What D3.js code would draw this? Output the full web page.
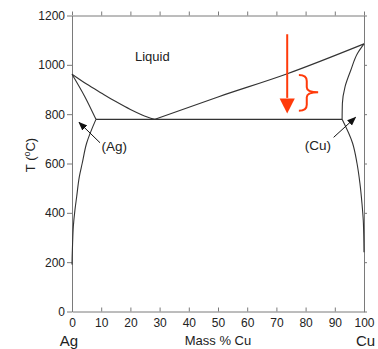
<!DOCTYPE html>
<html>
<head>
<meta charset="utf-8">
<script src="https://cdn.jsdelivr.net/npm/d3@7"></script>
<style>
  body { margin: 0; background: #fff; }
  svg { display: block; font-family: "Liberation Sans", Arial, Helvetica, sans-serif; }
  .axis text { font-size: 12px; fill: #222; }
  .axis path, .axis line { stroke: #7a7a7a; }
</style>
</head>
<body>
<div id="chart"></div>
<script>
// Ag-Cu phase diagram, points as [mass % Cu, T in degC]
const liquidusAg = [[0, 962], [5, 922], [10, 886], [15, 851], [20, 819], [24, 797], [28.3, 779]];
const liquidusCu = [[28.3, 779], [50, 870], [73.5, 963], [100, 1085]];
const solidusAg = [[0, 962], [4.4, 871], [8.2, 779]];
const solidusCu = [[100, 1085], [97.8, 1047], [95.5, 979], [93.5, 911], [92.6, 844], [92.5, 779]];
const solvusAg = [[8.2, 779], [5, 682], [3.5, 601], [2.5, 546], [1.6, 465], [1, 411], [0.45, 344], [0.2, 276], [0.05, 222], [0, 190]];
const solvusCu = [[92.5, 779], [96.1, 682], [97.6, 601], [98.6, 520], [99.3, 439], [99.8, 358], [100, 240]];
const eutectic = [[8.2, 779], [92.5, 779]];

const xTicks = [0, 10, 20, 30, 40, 50, 60, 70, 80, 90, 100];
const yTicks = [0, 200, 400, 600, 800, 1000, 1200];

const width = 378, height = 349;
const margin = { top: 15.5, right: 14, bottom: 37.5, left: 72 };
const w = width - margin.left - margin.right;
const h = height - margin.top - margin.bottom;

const svg = d3.select("#chart").append("svg")
    .attr("width", width)
    .attr("height", height);

const defs = svg.append("defs");
defs.append("marker")
    .attr("id", "blackHead")
    .attr("viewBox", "0 0 10 10")
    .attr("refX", 9).attr("refY", 5)
    .attr("markerWidth", 9).attr("markerHeight", 9)
    .attr("markerUnits", "userSpaceOnUse")
    .attr("orient", "auto")
    .append("path")
    .attr("d", "M0,1 L10,5 L0,9 Z")
    .attr("fill", "#111");

const g = svg.append("g")
    .attr("transform", `translate(${margin.left},${margin.top})`);

const x = d3.scaleLinear().domain([0, 100]).range([0, w]);
const y = d3.scaleLinear().domain([0, 1200]).range([h, 0]);

// axes
g.append("g").attr("class", "axis")
    .attr("transform", `translate(0,${h})`)
    .call(d3.axisBottom(x).tickValues(xTicks).tickSize(-4).tickSizeOuter(0).tickPadding(7));
g.append("g").attr("class", "axis")
    .call(d3.axisTop(x).tickValues(xTicks).tickSize(4).tickSizeOuter(0).tickFormat(""));
g.append("g").attr("class", "axis")
    .call(d3.axisLeft(y).tickValues(yTicks).tickSize(5).tickSizeOuter(0).tickPadding(2).tickFormat(d3.format("d")));
g.append("g").attr("class", "axis")
    .attr("transform", `translate(${w},0)`)
    .call(d3.axisRight(y).tickValues(yTicks).tickSize(3).tickSizeOuter(0).tickFormat(""));

// phase boundaries
const line = d3.line().x(d => x(d[0])).y(d => y(d[1])).curve(d3.curveMonotoneY);
const lineX = d3.line().x(d => x(d[0])).y(d => y(d[1])).curve(d3.curveMonotoneX);

[liquidusAg, liquidusCu, eutectic].forEach(pts => {
    g.append("path").attr("d", lineX(pts))
        .attr("fill", "none").attr("stroke", "#333").attr("stroke-width", 1.1);
});
[solidusAg, solidusCu, solvusAg, solvusCu].forEach(pts => {
    g.append("path").attr("d", line(pts))
        .attr("fill", "none").attr("stroke", "#333").attr("stroke-width", 1.1);
});

// labels
g.append("text").attr("x", x(27.5)).attr("y", y(1033)).attr("dy", "0.35em")
    .attr("text-anchor", "middle").attr("font-size", 13).attr("fill", "#222")
    .text("Liquid");

g.append("text").attr("x", x(10.1)).attr("y", y(669)).attr("dy", "0.35em")
    .attr("font-size", 13.5).attr("fill", "#222").text("(Ag)");
g.append("line")
    .attr("x1", x(9.6)).attr("y1", y(684)).attr("x2", x(2.4)).attr("y2", y(767))
    .attr("stroke", "#111").attr("stroke-width", 1).attr("marker-end", "url(#blackHead)");

g.append("text").attr("x", x(79.7)).attr("y", y(675)).attr("dy", "0.35em")
    .attr("font-size", 13.5).attr("fill", "#222").text("(Cu)");
g.append("line")
    .attr("x1", x(89.6)).attr("y1", y(706)).attr("x2", x(97.1)).attr("y2", y(787))
    .attr("stroke", "#111").attr("stroke-width", 1).attr("marker-end", "url(#blackHead)");

// red cooling arrow and brace
const red = "#ff3a0a";
const ax = x(73.7);
g.append("line")
    .attr("x1", ax).attr("y1", y(1124)).attr("x2", ax).attr("y2", y(866))
    .attr("stroke", red).attr("stroke-width", 2);
g.append("path")
    .attr("d", `M${ax - 7.6},${y(864)} L${ax + 7.6},${y(864)} L${ax},${y(803)} Z`)
    .attr("fill", red);

const bx0 = x(77.7), bxs = x(80.4), bxt = x(84.3);
const bTop = y(959), bMid = y(889), bBot = y(814);
g.append("path")
    .attr("d", `M${bx0},${bTop} Q${bxs},${bTop} ${bxs},${bTop + 6} L${bxs},${bMid - 5}`
        + ` Q${bxs},${bMid} ${bxt},${bMid} Q${bxs},${bMid} ${bxs},${bMid + 5}`
        + ` L${bxs},${bBot - 6} Q${bxs},${bBot} ${bx0},${bBot}`)
    .attr("fill", "none").attr("stroke", red).attr("stroke-width", 2);

// axis titles
svg.append("text")
    .attr("transform", "translate(35,155) rotate(-90)")
    .attr("text-anchor", "middle").attr("font-size", 13).attr("fill", "#222")
    .call(t => {
        t.append("tspan").text("T (");
        t.append("tspan").attr("font-size", 9).attr("dy", -5).text("o");
        t.append("tspan").attr("dy", 5).text("C)");
    });

svg.append("text").attr("x", margin.left + w / 2).attr("y", 345)
    .attr("text-anchor", "middle").attr("font-size", 13).attr("fill", "#222")
    .text("Mass % Cu");
svg.append("text").attr("x", 69).attr("y", 346)
    .attr("text-anchor", "middle").attr("font-size", 15).attr("fill", "#222")
    .text("Ag");
svg.append("text").attr("x", 365.5).attr("y", 346)
    .attr("text-anchor", "middle").attr("font-size", 15).attr("fill", "#222")
    .text("Cu");
</script>
</body>
</html>
